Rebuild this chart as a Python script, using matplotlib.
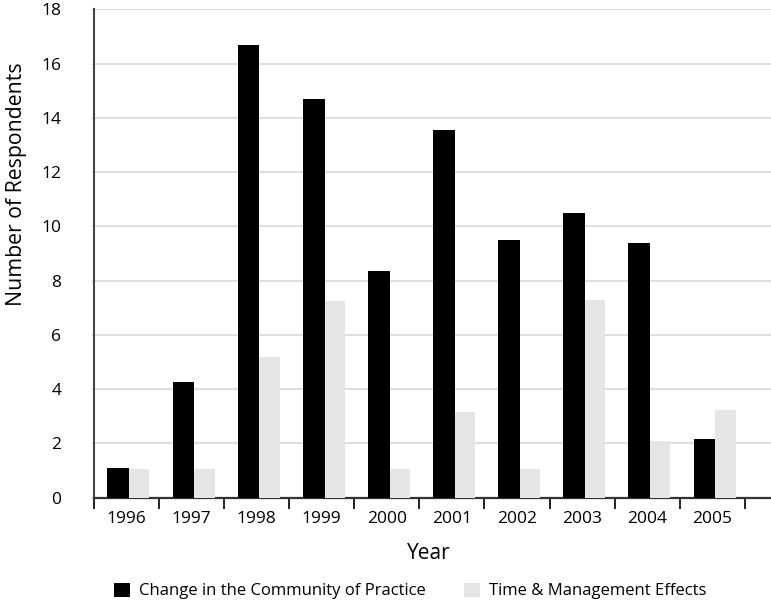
import numpy as np
import matplotlib
matplotlib.use("Agg")
from matplotlib import pyplot as plt
from matplotlib.patches import Patch

plt.rcParams['font.family'] = ['Open Sans', 'DejaVu Sans']

# data
years = ['1996', '1997', '1998', '1999', '2000', '2001', '2002', '2003', '2004', '2005']
change_cop = [1.1, 4.25, 16.7, 14.7, 8.35, 13.55, 9.5, 10.5, 9.4, 2.15]
time_mgmt = [1.05, 1.05, 5.2, 7.25, 1.05, 3.15, 1.05, 7.3, 2.1, 3.25]
yticks = [0, 2, 4, 6, 8, 10, 12, 14, 16, 18]

black = '#000000'
grey = '#e4e5e7'

fig = plt.figure(figsize=(7.71, 6.0), dpi=100)
ax = fig.add_axes([93.7 / 771, 1 - 497.7 / 600, 1 - 93.7 / 771, (497.7 - 9.3) / 600])

x = np.arange(len(years))
ax.bar(x - 0.29, change_cop, width=0.335, align='edge', color=black, zorder=3)
ax.bar(x + 0.045, time_mgmt, width=0.31, align='edge', color=grey, zorder=3)

ax.set_ylim(0, 18)
ax.set_xlim(-0.5, 9.9)
ax.set_yticks(yticks)
ax.set_yticklabels([str(v) for v in yticks], fontsize=12.5)
ax.yaxis.grid(True, color='#d9d9d9', linewidth=1.2, zorder=0)
ax.tick_params(axis='y', length=2.2, color='#d9d9d9', pad=21)

# category separators as ticks on the x axis
ax.set_xticks(np.arange(len(years) + 1) - 0.5)
ax.set_xticklabels([])
ax.set_xticks(x, minor=True)
ax.set_xticklabels(years, minor=True, fontsize=12.5)
ax.tick_params(axis='x', which='major', length=8, width=1.4, color='#222222', direction='out')
ax.tick_params(axis='x', which='minor', length=0, pad=9.5)

for s in ['top', 'right']:
    ax.spines[s].set_visible(False)
ax.spines['left'].set_color('#444444')
ax.spines['left'].set_linewidth(1.5)
ax.spines['bottom'].set_color('#333333')
ax.spines['bottom'].set_linewidth(1.6)

ax.set_xlabel('Year', fontsize=15)
ax.xaxis.set_label_coords((429 - 93.7) / (771 - 93.7), -(543 - 497.7) / 488.4)
ax.set_ylabel('Number of Respondents', fontsize=15.3)
ax.yaxis.set_label_coords(-(93.7 - 27) / (771 - 93.7), (497.7 - 184) / 488.4)

handles = [Patch(facecolor=black, label='Change in the Community of Practice'),
           Patch(facecolor=grey, label='Time & Management Effects')]
fig.legend(handles=handles, loc='center', bbox_to_anchor=(410 / 771, 1 - 591 / 600),
           ncol=2, frameon=False, fontsize=12, handlelength=0.95, handleheight=0.95,
           handletextpad=0.55, columnspacing=2.3)

fig.savefig('out.png', dpi=100)
